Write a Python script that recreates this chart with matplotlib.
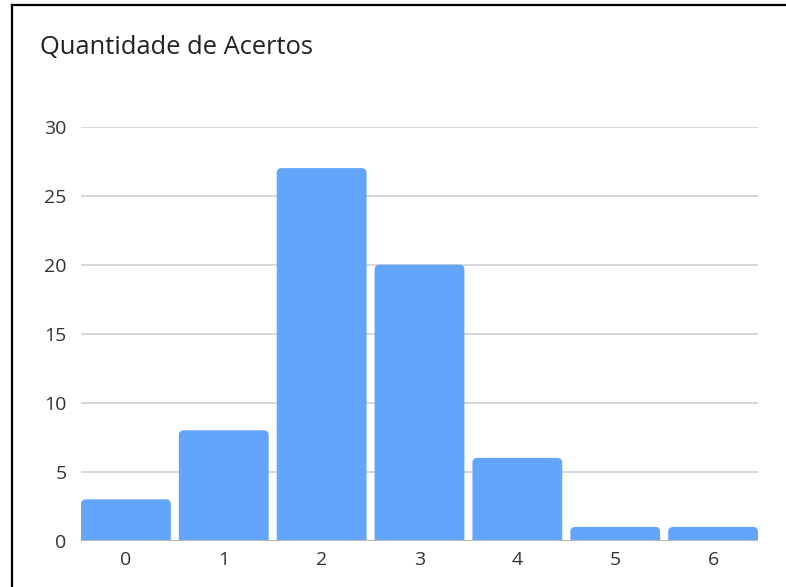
import matplotlib.pyplot as plt
from matplotlib.patches import PathPatch
from matplotlib.path import Path
from matplotlib.lines import Line2D

acertos = ['0', '1', '2', '3', '4', '5', '6']
quantidade = [3, 8, 27, 20, 6, 1, 1]
y_ticks = [0, 5, 10, 15, 20, 25, 30]

W, H = 786, 587
cor_barra = '#63a5fa'
cor_texto = '#333333'

plt.rcParams['font.family'] = ['Open Sans', 'DejaVu Sans']

fig = plt.figure(figsize=(W / 100, H / 100), dpi=100)
ax = fig.add_axes([81 / W, 1 - 540.7 / H, 677 / W, 414 / H])

largura = 0.918
ax.set_xlim(-largura / 2, len(acertos) - 1 + largura / 2)
ax.set_ylim(0, 30)

# tamanho de 1 px em unidades de dados, para arredondar o topo das barras
px_x = (len(acertos) - 1 + largura) / 677
px_y = 30 / 414
rx, ry = 5 * px_x, 5 * px_y


def barra(x0, x1, v):
    verts = [(x0, 0), (x0, v - ry), (x0, v), (x0 + rx, v),
             (x1 - rx, v), (x1, v), (x1, v - ry), (x1, 0), (x0, 0)]
    codes = [Path.MOVETO, Path.LINETO, Path.CURVE3, Path.CURVE3,
             Path.LINETO, Path.CURVE3, Path.CURVE3, Path.LINETO, Path.CLOSEPOLY]
    return PathPatch(Path(verts, codes), facecolor=cor_barra, edgecolor='none', zorder=3)


for i, v in enumerate(quantidade):
    ax.add_patch(barra(i - largura / 2, i + largura / 2, v))

ax.set_yticks(y_ticks)
ax.set_xticks(range(len(acertos)))
ax.set_xticklabels(acertos)
ax.grid(axis='y', color='#d0d0d0', linewidth=1.2, zorder=0)
ax.axhline(0, color='#b8b8b8', linewidth=1.5, zorder=4)
for s in ax.spines.values():
    s.set_visible(False)
ax.tick_params(axis='both', length=0, labelsize=14, colors=cor_texto)
ax.tick_params(axis='y', pad=10.5)
ax.tick_params(axis='x', pad=7.5)

fig.text(40 / W, 1 - 54.5 / H, 'Quantidade de Acertos', fontsize=18.4,
         color='#222222', ha='left', va='baseline')

# moldura (esquerda e topo)
fig.add_artist(Line2D([12 / W, 12 / W], [0, 1 - 5 / H], color='black', linewidth=1.6))
fig.add_artist(Line2D([12 / W, 1], [1 - 5 / H, 1 - 5 / H], color='black', linewidth=1.6))

fig.savefig('out.png', dpi=100)
